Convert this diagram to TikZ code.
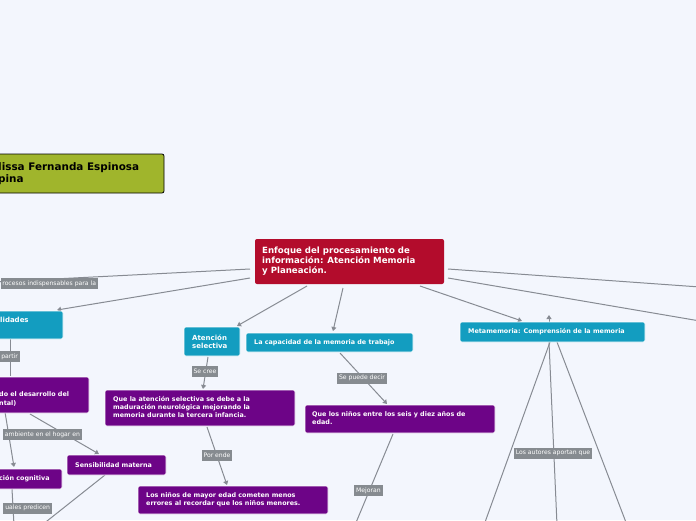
\documentclass[tikz,border=0pt]{standalone}
\usepackage{fontspec}
\setmainfont{DejaVu Sans}
\usetikzlibrary{arrows.meta}
\definecolor{bg}{HTML}{F3F6FD}
\definecolor{cred}{HTML}{B30C2C}
\definecolor{cblue}{HTML}{139DC0}
\definecolor{cpurp}{HTML}{6D0487}
\definecolor{cgreen}{HTML}{A0B52C}
\definecolor{clab}{HTML}{868B90}
\definecolor{cline}{HTML}{878B93}
\begin{document}
\begin{tikzpicture}[x=1pt,y=-1pt,
  box/.style={rounded corners=2pt,draw=white,line width=0.6pt},
  btxt/.style={text=white,font=\bfseries\fontsize{7}{8.5}\selectfont,align=left,anchor=west,inner sep=0pt},
  lab/.style={fill=clab,text=white,font=\fontsize{6.1}{6.5}\selectfont,inner sep=1.8pt,minimum height=11pt},
  con/.style={draw=cline,line width=1pt},
  arr/.style={con,-{Triangle[width=5pt,length=4pt]}}]
\useasboundingbox (0,0) rectangle (696,520);
\clip (0,0) rectangle (696,520);
\fill[bg] (0,0) rectangle (696,520);
% connectors
\coordinate (L1) at (-5,282); \coordinate (R1) at (700,287); \coordinate (R2) at (700,321);
\draw[con] (250,269) -- (L1);
\draw[arr] (250,278) -- (57,310);
\draw[arr] (307,286) -- (237,326);
\draw[arr] (343,288) -- (333,331);
\draw[arr] (420,286) -- (522,321);
\draw[con] (448,269) -- (R1);
\draw[con] (448,278) -- (R2);
\draw[arr] (208,357) -- (203,389);
\draw[arr] (207,427) -- (227,485);
\draw[arr] (340,353) -- (387,404);
\draw[con] (393,434) -- (355,525);
\draw[con] (550,342) -- (484,525);
\draw[con] (549,342) -- (557,525);
\draw[con] (557,342) -- (627,525);
\draw[arr] (549,330) -- (549,315);
\draw[con] (10,338) -- (10,376);
\draw[arr] (5,412) -- (14,467);
\draw[arr] (30,414) -- (99,454);
\draw[con] (105,475) -- (42,525);
\draw[con] (12,489) -- (14,525);
% central
\fill[cred,rounded corners=2pt] (255,239) rectangle (444,284);
\node[btxt,font=\bfseries\fontsize{8.6}{10}\selectfont] (c) at (262,261) {Enfoque del procesamiento de\\información: Atención Memoria\\y Planeación.};
% green
\draw[fill=cgreen,draw=black,rounded corners=2pt,line width=0.8pt] (-40,154) rectangle (164,193);
\node[text=black,font=\bfseries\fontsize{10.4}{12.5}\selectfont,align=left,anchor=west,inner sep=0pt] (g) at (-2,173.5) {lissa Fernanda Espinosa\\pina};
% blue
\draw[box,fill=cblue] (-40,311) rectangle (63,339); \node[btxt] (hab) at (0,320) {lidades};
\draw[box,fill=cblue] (184,327) rectangle (240,356); \node[btxt] (as) at (192,341.5) {Atención\\selectiva};
\draw[box,fill=cblue] (246,333) rectangle (413,352); \node[btxt,font=\bfseries\fontsize{6.4}{8}\selectfont] (cap) at (254,342.5) {La capacidad de la memoria de trabajo};
\draw[box,fill=cblue] (460,322) rectangle (645,342); \node[btxt,font=\bfseries\fontsize{6.4}{8}\selectfont] (meta) at (468,332) {Metamemoria: Comprensión de la memoria};
% purple
\tikzset{ptxt/.style={btxt,font=\bfseries\fontsize{6.4}{8.3}\selectfont}}
\draw[box,fill=cpurp] (105,390) rectangle (295,426); \node[ptxt] (q1) at (113,407) {Que la atención selectiva se debe a la\\maduración neurológica mejorando la\\memoria durante la tercera infancia.};
\draw[box,fill=cpurp] (138,486) rectangle (328,514); \node[ptxt] (q2) at (146,499.5) {Los niños de mayor edad cometen menos\\errores al recordar que los niños menores.};
\draw[box,fill=cpurp] (305,405) rectangle (495,433); \node[ptxt] (q3) at (312,418) {Que los niños entre los seis y diez años de\\edad.};
\draw[box,fill=cpurp] (-40,377) rectangle (89,413); \node[ptxt] (d) at (-1,399) {do el desarrollo del\\ntal)};
\draw[box,fill=cpurp] (67,455) rectangle (166,475); \node[ptxt] (sm) at (75,465) {Sensibilidad materna};
\draw[box,fill=cpurp] (-40,469) rectangle (62,489); \node[ptxt] (cc) at (-1,479) {ción cognitiva};
% labels
\node[lab,anchor=east] (l1) at (98,283.5) {rocesos indispensables para la};
\node[lab,anchor=east] (l2) at (20,356.5) {partir};
\node[lab,anchor=east] (l3) at (82,434.5) {ambiente en el hogar en};
\node[lab,anchor=east] (l4) at (52,508) {uales predicen};
\node[lab] (l5) at (205,371.5) {Se cree};
\node[lab] (l6) at (217,455.5) {Por ende};
\node[lab] (l7) at (362,378) {Se puede decir};
\node[lab] (l8) at (368.5,490.5) {Mejoran};
\node[lab] (l9) at (553,453) {Los autores aportan que};
\end{tikzpicture}
\end{document}
